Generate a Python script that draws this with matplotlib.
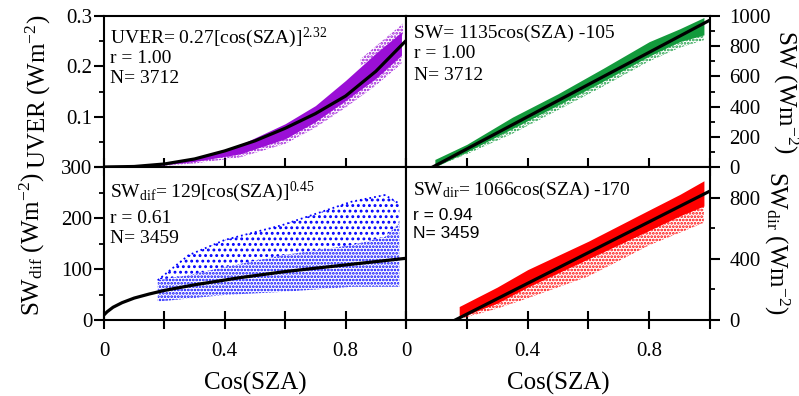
"""
Four-panel irradiance vs cos(SZA) chart
"""

import matplotlib
matplotlib.use('Agg')
import matplotlib.pyplot as plt

plt.rcParams['font.family'] = ['Liberation Serif', 'DejaVu Serif']
plt.rcParams['mathtext.fontset'] = 'custom'
plt.rcParams['mathtext.rm'] = 'Liberation Serif'
plt.rcParams['mathtext.it'] = 'Liberation Serif:italic'
plt.rcParams['mathtext.bf'] = 'Liberation Serif:bold'
plt.rcParams['axes.linewidth'] = 1.5
plt.rcParams['hatch.linewidth'] = 1.3

W, H = 799, 396

# ---- UVER (top left) ----
uv_fit_cos = [0, 0.1, 0.2, 0.3, 0.4, 0.5, 0.6, 0.7, 0.8, 0.9, 1.0]
uv_fit = [0, 0.001, 0.006, 0.016, 0.032, 0.052, 0.077, 0.106, 0.141, 0.190, 0.251]
uv_cos = [0.15, 0.3, 0.45, 0.6, 0.7, 0.8, 0.9, 0.985]
uv_hi = [0.004, 0.018, 0.044, 0.086, 0.122, 0.172, 0.226, 0.268]
uv_lo = [0.001, 0.011, 0.026, 0.056, 0.090, 0.132, 0.176, 0.222]
uv_sparse = [0.0, 0.007, 0.019, 0.046, 0.078, 0.118, 0.162, 0.205]
uv_out_cos = [0.85, 0.92, 0.99]
uv_out_hi = [0.215, 0.250, 0.285]
uv_out_lo = [0.200, 0.232, 0.262]

# ---- SW (top right) ----
sw_fit_cos = [0.088, 1.0]
sw_fit = [0, 973]
sw_cos = [0.095, 0.2, 0.35, 0.5, 0.65, 0.8, 0.9, 0.98]
sw_hi = [50, 150, 330, 485, 655, 830, 915, 990]
sw_lo = [0, 100, 255, 410, 570, 735, 830, 875]
sw_sparse = [0, 85, 220, 377, 535, 700, 790, 840]

# ---- SWdif (bottom left) ----
dif_fit_cos = [0, 0.01, 0.03, 0.06, 0.1, 0.15, 0.2, 0.3, 0.45, 0.6, 0.8, 1.0]
dif_fit = [10, 16, 25, 34, 43, 51, 58, 69, 83, 95, 108, 121]
dif_cos = [0.178, 0.28, 0.40, 0.59, 0.82, 0.93, 0.978]
dif_core_hi = [78, 88, 104, 127, 147, 163, 190]
dif_core_lo = [36, 42, 49, 55, 65, 65, 65]
dif_top = [78, 127, 157, 186, 232, 245, 228]

# ---- SWdir (bottom right) ----
dir_fit_cos = [0.162, 1.0]
dir_fit = [0, 843]
dir_cos = [0.175, 0.3, 0.4, 0.6, 0.805, 0.9, 0.98]
dir_hi = [88, 215, 329, 515, 724, 820, 910]
dir_lo = [15, 110, 215, 400, 590, 680, 745]
dir_sparse = [5, 75, 142, 285, 493, 570, 636]

x_ticks = [0, 0.2, 0.4, 0.6, 0.8, 1.0]
x_labels = ['0', '', '0.4', '', '0.8', '']

purple = '#9a0fd6'
green = '#139a3c'
blue = '#0000ff'
red = '#ff0000'


def add_axes(fig, x0, y0, x1, y1):
    return fig.add_axes([x0 / W, 1 - y1 / H, (x1 - x0) / W, (y1 - y0) / H])


def style(ax, side, show_x):
    ax.set_xlim(0, 1)
    ax.set_xticks(x_ticks)
    ax.set_xticklabels(x_labels if show_x else [''] * 6)
    ax.tick_params(axis='x', which='major', direction='inout', length=13,
                   width=1.5, labelsize=15, pad=9)
    ax.tick_params(axis='y', which='major', direction='out', length=7,
                   width=1.5, labelsize=15)
    ax.tick_params(axis='y', which='minor', direction='out', length=3.5,
                   width=1.3)
    if side == 'right':
        ax.yaxis.tick_right()
        ax.yaxis.set_label_position('right')
        ax.tick_params(axis='y', which='both', pad=7)
    else:
        ax.tick_params(axis='y', which='both', pad=1.5)
    if show_x:
        ax.set_xlabel('Cos(SZA)', fontsize=18, labelpad=8)


def band(ax, c, lo, hi, col, hatch=None):
    if hatch:
        ax.fill_between(c, lo, hi, facecolor='none', edgecolor=col,
                        hatch=hatch, linewidth=0, zorder=2)
    else:
        ax.fill_between(c, lo, hi, color=col, linewidth=0, zorder=2)


fig = plt.figure(figsize=(W / 100, H / 100), dpi=100)

ax1 = add_axes(fig, 104, 16, 406, 167)
ax2 = add_axes(fig, 406, 16, 710, 167)
ax3 = add_axes(fig, 104, 167, 406, 320)
ax4 = add_axes(fig, 406, 167, 710, 320)

# top left
band(ax1, uv_cos, uv_sparse, uv_lo, purple, '.....')
band(ax1, uv_cos, uv_lo, uv_hi, purple)
band(ax1, uv_out_cos, uv_out_lo, uv_out_hi, purple, '.....')
ax1.plot(uv_fit_cos, uv_fit, color='black', lw=2.3, zorder=4)
ax1.set_ylim(0, 0.3)
ax1.set_yticks([0, 0.1, 0.2, 0.3])
# the "0" here sits under the "300" of the panel below
ax1.set_yticklabels(['', '0.1', '0.2', '0.3'])
ax1.set_yticks([0.05, 0.15, 0.25], minor=True)
style(ax1, 'left', False)
ax1.set_ylabel('UVER (Wm$^{-2}$)', fontsize=18)
ax1.yaxis.set_label_coords(-0.17, 0.5)

# top right
band(ax2, sw_cos, sw_sparse, sw_lo, green, '.....')
band(ax2, sw_cos, sw_lo, sw_hi, green)
ax2.plot(sw_fit_cos, sw_fit, color='black', lw=2.3, zorder=4)
ax2.set_ylim(0, 1000)
ax2.set_yticks([0, 200, 400, 600, 800, 1000])
ax2.set_yticks([100, 300, 500, 700, 900], minor=True)
style(ax2, 'right', False)
ax2.set_ylabel('SW (Wm$^{-2}$)', fontsize=18, rotation=270, va='bottom')
ax2.yaxis.set_label_coords(1.2, 0.5)

# bottom left
band(ax3, dif_cos, dif_core_hi, dif_top, blue, '...')
band(ax3, dif_cos, dif_core_lo, dif_core_hi, blue, '.....')
ax3.plot(dif_cos, dif_top, color=blue, lw=1.3, ls=':', zorder=2)
ax3.plot(dif_fit_cos, dif_fit, color='black', lw=2.3, zorder=4)
ax3.set_ylim(0, 300)
ax3.set_yticks([0, 100, 200, 300])
ax3.set_yticks([50, 150, 250], minor=True)
style(ax3, 'left', True)
ax3.set_ylabel('SW$_{\\mathrm{dif}}$ (Wm$^{-2}$)', fontsize=18)
ax3.yaxis.set_label_coords(-0.19, 0.5)

# bottom right
band(ax4, dir_cos, dir_sparse, dir_lo, red, '.....')
band(ax4, dir_cos, dir_lo, dir_hi, red)
ax4.plot(dir_fit_cos, dir_fit, color='black', lw=2.3, zorder=4)
ax4.set_ylim(0, 1000)
ax4.set_yticks([0, 400, 800])
ax4.set_yticks([200, 600, 1000], minor=True)
style(ax4, 'right', True)
ax4.set_ylabel('SW$_{\\mathrm{dir}}$ (Wm$^{-2}$)', fontsize=18, rotation=270,
               va='bottom')
ax4.yaxis.set_label_coords(1.17, 0.5)


def note(x, y, s, **kw):
    kw.setdefault('fontsize', 14)
    fig.text(x / W, 1 - y / H, s, ha='left', va='baseline', **kw)


note(110, 43, 'UVER= 0.27[cos(SZA)]$^{\\mathrm{2.32}}$')
note(110, 63, 'r = 1.00')
note(110, 83, 'N= 3712')
note(414, 38, 'SW= 1135cos(SZA) -105')
note(414, 58, 'r = 1.00')
note(414, 80, 'N= 3712')
note(110, 197, 'SW$_{\\mathrm{dif}}$= 129[cos(SZA)]$^{\\mathrm{0.45}}$')
note(110, 223, 'r = 0.61')
note(110, 243, 'N= 3459')
note(413, 195, 'SW$_{\\mathrm{dir}}$= 1066cos(SZA) -170')
note(413, 220, 'r = 0.94', fontsize=12.5, family=['Liberation Sans'])
note(413, 238, 'N= 3459', fontsize=12.5, family=['Liberation Sans'])

fig.savefig('out.png', dpi=100)
